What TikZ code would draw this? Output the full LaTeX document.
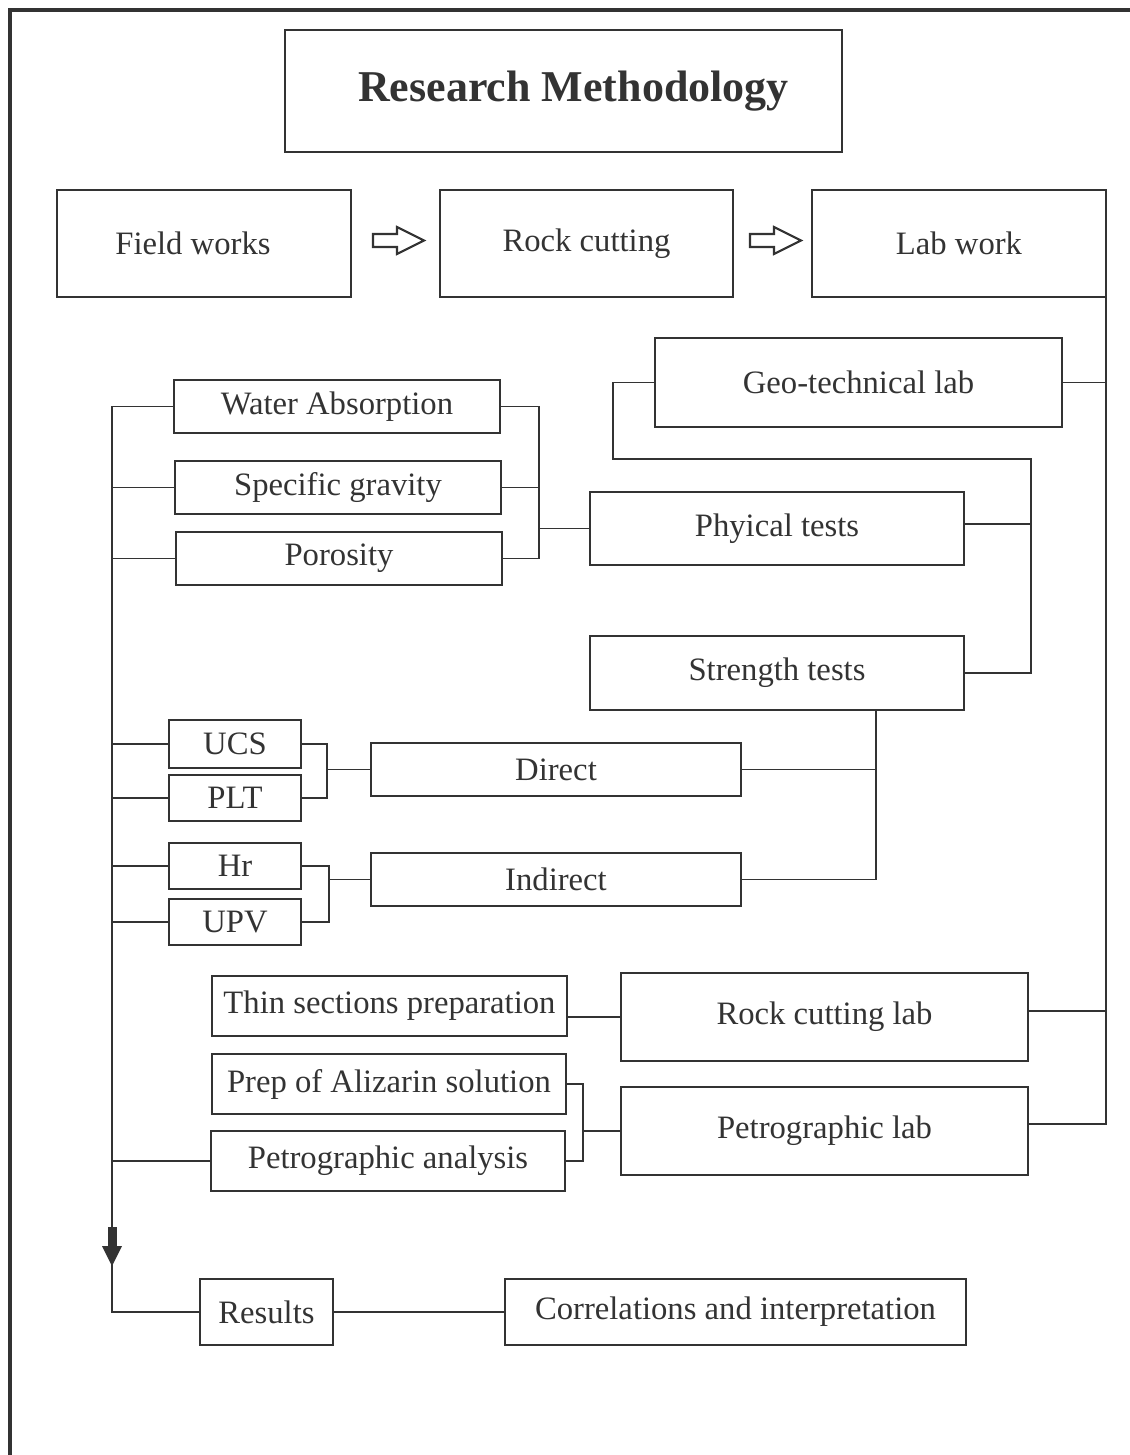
\documentclass[tikz,border=0pt]{standalone}
\usepackage{fontspec}
\setmainfont{Liberation Serif}
\definecolor{ln}{HTML}{333333}
\tikzset{
  box/.style={draw=ln,line width=2.05pt,inner sep=0pt,outer sep=0pt,text=ln,font=\fontsize{24.5}{28}\selectfont},
  conn/.style={draw=ln,line width=1.1pt},
  harr/.style={draw=ln,line width=1.6pt,line join=miter},
  frame/.style={draw=ln,line width=2.3pt}
}
\newcommand\mybox[6]{\node[box,minimum width={(#4-#2)*0.75pt},minimum height={(#5-#3)*0.75pt}] (#1) at ({(#2+#4)/2},{(#3+#5)/2}) {#6};}
\begin{document}
\begin{tikzpicture}[x=0.75pt,y=-0.75pt]
\useasboundingbox (0,0) rectangle (1129,1455);
\draw[frame] (10,1460) -- (10,10) -- (1135,10);
% boxes
\mybox{title}{285}{30}{842}{152}{\hspace*{15pt}\fontsize{33}{38}\selectfont\bfseries Research Methodology}
\mybox{field}{57}{190}{351}{297}{\hspace*{-16.5pt}Field works}
\mybox{rock}{440}{190}{733}{297}{Rock cutting}
\mybox{lab}{812}{190}{1106}{297}{Lab work}
\mybox{geo}{655}{338}{1062}{427}{Geo-technical lab}
\mybox{wa}{174}{380}{500}{433}{Water Absorption}
\mybox{sg}{175}{461}{501}{514}{Specific gravity}
\mybox{por}{176}{532}{502}{585}{Porosity}
\mybox{phy}{590}{492}{964}{565}{Phyical tests}
\mybox{str}{590}{636}{964}{710}{Strength tests}
\mybox{ucs}{169}{720}{301}{768}{UCS}
\mybox{plt}{169}{775}{301}{821}{PLT}
\mybox{dir}{371}{743}{741}{796}{Direct}
\mybox{hr}{169}{843}{301}{889}{Hr}
\mybox{upv}{169}{899}{301}{945}{UPV}
\mybox{ind}{371}{853}{741}{906}{Indirect}
\mybox{thin}{212}{976}{567}{1036}{Thin sections preparation}
\mybox{rcl}{621}{973}{1028}{1061}{Rock cutting lab}
\mybox{aliz}{212}{1054}{566}{1114}{Prep of Alizarin solution}
\mybox{pa}{211}{1131}{565}{1191}{Petrographic analysis}
\mybox{pl}{621}{1087}{1028}{1175}{Petrographic lab}
\mybox{res}{200}{1279}{333}{1345}{Results}
\mybox{cor}{505}{1279}{966}{1345}{Correlations and interpretation}
% hollow arrows
\draw[harr] (373,234) -- (397,234) -- (397,227) -- (424,240.5) -- (397,254) -- (397,247) -- (373,247) -- cycle;
\draw[harr] (750,234) -- (774,234) -- (774,227) -- (801,240.5) -- (774,254) -- (774,247) -- (750,247) -- cycle;
% coordinates
\coordinate (rx) at (1106,0);
\coordinate (gx) at (1031,459);
\coordinate (gy) at (0,524);
\coordinate (pb) at (539,0);
\coordinate (sx) at (876,0);
\coordinate (db) at (327,0);
\coordinate (ib) at (329,0);
\coordinate (ab) at (583,0);
\coordinate (sp) at (112,0);
\coordinate (ty) at (0,1017);
\coordinate (ry) at (0,1011);
\coordinate (py) at (0,1124);
% right spine
\draw[conn] (lab.south east) |- (pl.east |- py);
\draw[conn] (geo.east) -- (geo.east -| rx);
\draw[conn] (rcl.east |- ry) -- (rx |- ry);
% geo-technical branch
\draw[conn] (geo.west) -- ++(-42,0) |- (gx) |- (str.east);
\draw[conn] (phy.east |- gy) -- (gx |- gy);
% physical tests
\draw[conn] (wa.east) -- (wa.east -| pb) |- (por.east);
\draw[conn] (sg.east) -- (sg.east -| pb);
\draw[conn] (phy.west) -- (phy.west -| pb);
% strength tests
\draw[conn] (sx |- str.south) |- (ind.east);
\draw[conn] (dir.east) -- (dir.east -| sx);
% direct / indirect
\draw[conn] (ucs.east) -- (ucs.east -| db) |- (plt.east);
\draw[conn] (dir.west) -- (dir.west -| db);
\draw[conn] (hr.east) -- (hr.east -| ib) |- (upv.east);
\draw[conn] (ind.west) -- (ind.west -| ib);
% rock cutting / petrographic
\draw[conn] (thin.east |- ty) -- (rcl.west |- ty);
\draw[conn] (aliz.east) -- (aliz.east -| ab) |- (pa.east);
\draw[conn] (pl.west) -- (pl.west -| ab);
% left spine
\draw[conn] (wa.west) -- (wa.west -| sp) |- (res.west);
\draw[conn] (sg.west) -- (sg.west -| sp);
\draw[conn] (por.west) -- (por.west -| sp);
\draw[conn] (ucs.west) -- (ucs.west -| sp);
\draw[conn] (plt.west) -- (plt.west -| sp);
\draw[conn] (hr.west) -- (hr.west -| sp);
\draw[conn] (upv.west) -- (upv.west -| sp);
\draw[conn] (pa.west) -- (pa.west -| sp);
\fill[ln] (107.5,1227) rectangle (116.5,1248);
\fill[ln] (102,1246) -- (122,1246) -- (112,1266) -- cycle;
% results
\draw[conn] (res.east) -- (cor.west);
\end{tikzpicture}
\end{document}
